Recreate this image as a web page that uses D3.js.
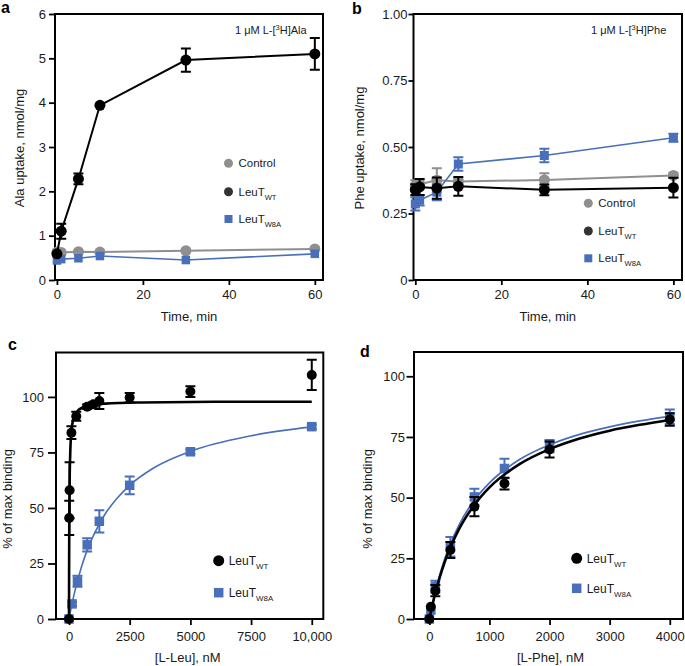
<!DOCTYPE html>
<html><head><meta charset="utf-8">
<script src="https://cdn.jsdelivr.net/npm/d3@7"></script>
<style>body{margin:0;background:#fff} svg text{font-family:"Liberation Sans",Arial,Helvetica,sans-serif}</style>
</head><body><svg id="chart" width="685" height="666"></svg>
<script>
// ---------- data ----------
// panel a: Ala uptake
const timeMin = [0, 1, 5, 10, 30, 60];
const alaControl = [0.63, 0.62, 0.64, 0.63, 0.66, 0.70];
const alaWT = [0.59, 1.10, 2.28, 3.94, 4.96, 5.10];
const alaWTErr = [0, 0.17, 0.12, 0, 0.26, 0.36];
const alaW8A = [0.44, 0.47, 0.49, 0.54, 0.45, 0.59];
// panel b: Phe uptake
const pheControl = [0.355, 0.36, 0.375, 0.37, 0.376, 0.393];
const pheControlErr = [0.02, 0.015, 0.045, 0.01, 0.025, 0.01];
const pheWT = [0.34, 0.35, 0.345, 0.352, 0.339, 0.347];
const pheWTErr = [0.02, 0.03, 0.04, 0.035, 0.02, 0.037];
const pheW8A = [0.286, 0.30, 0.33, 0.436, 0.468, 0.535];
const pheW8AErr = [0.025, 0.02, 0.03, 0.025, 0.025, 0.015];
// panel c: L-Leu binding
const leuConcWT = [0, 10, 25, 100, 300, 750, 1000, 1250, 2500, 5000, 10000];
const leuBindWT = [0, 45.5, 58, 83.9, 91.3, 95.6, 96.7, 98.2, 99.7, 102.4, 109.9];
const leuBindWTErr = [0, 7.7, 12.6, 2.9, 2.0, 1.0, 1.0, 3.6, 2.1, 2.4, 6.8];
const leuConcW8A = [0, 125, 350, 750, 1250, 2500, 5000, 10000];
const leuBindW8A = [0, 6.8, 17, 33.4, 44, 60.2, 75.3, 86.6];
const leuBindW8AErr = [0, 1, 2.5, 3, 5, 4, 1, 1];
const leuFitWTx = [0, 5, 10, 25, 50, 100, 200, 400, 800, 1500, 3000, 6000, 10000];
const leuFitWTy = [0, 23, 38, 60, 74, 84.5, 90.7, 94.2, 96.1, 97, 97.5, 97.8, 97.8];
const leuFitW8Ax = [0, 125, 250, 500, 750, 1000, 1500, 2000, 2500, 3500, 5000, 7500, 10000];
const leuFitW8Ay = [0, 6.9, 12.9, 23, 31, 37.4, 47.5, 54.6, 60.2, 68.1, 75.5, 82.5, 86.5];
// panel d: L-Phe binding
const pheConc = [0, 25, 100, 350, 750, 1250, 2000, 4000];
const pheBindWT = [0, 5, 11.7, 28.4, 46.3, 55.8, 69.8, 82.2];
const pheBindWTErr = [0, 0, 2.3, 3.3, 4, 2.4, 3.3, 2.6];
const pheBindW8A = [0, 3.7, 13.3, 29.8, 50.3, 62, 71.2, 83.3];
const pheBindW8AErr = [0, 0, 2.5, 4, 3.4, 4, 2.5, 3];
const pheFitX = [0, 100, 250, 500, 750, 1000, 1500, 2000, 2500, 3000, 3500, 4000];
const pheFitWTy = [0, 10.7, 23, 37.3, 47, 54.2, 63.8, 70, 74.4, 77.6, 80, 82];
const pheFitW8Ay = [0, 11.4, 24.3, 39, 49, 56.1, 65.7, 71.8, 76.1, 79.2, 81.6, 83.5];
// ticks
const timeTicks = [0, 20, 40, 60];
const alaTicks = [0, 1, 2, 3, 4, 5, 6];
const pheUptakeTicks = [0, 0.25, 0.5, 0.75, 1];
const pheUptakeTickLabels = ["0", "0.25", "0.50", "0.75", "1.00"];
const leuTicks = [0, 2500, 5000, 7500, 10000];
const leuTickLabels = ["0", "2500", "5000", "7500", "10,000"];
const bindTicks = [0, 25, 50, 75, 100];
const pheConcTicks = [0, 1000, 2000, 3000, 4000];

// ---------- drawing ----------
const svg = d3.select("#chart");
const BLUE = "#4a6fba", GRAY = "#8f8f8f", BLACK = "#000000";
const FONT = '"Liberation Sans",Arial,Helvetica,sans-serif';

function panel(o) {
  const x = d3.scaleLinear().domain(o.xDomain).range([o.left, o.right]);
  const y = d3.scaleLinear().domain(o.yDomain).range([o.bottom, o.top]);
  const g = svg.append("g");
  const xa = g.append("g").attr("transform", `translate(0,${o.bottom})`)
    .call(d3.axisBottom(x).tickValues(o.xTicks)
      .tickFormat((d, i) => o.xLabels ? o.xLabels[i] : d)
      .tickSize(o.xTickSize).tickPadding(o.xPad).tickSizeOuter(0));
  const ya = g.append("g").attr("transform", `translate(${o.left},0)`)
    .call(d3.axisLeft(y).tickValues(o.yTicks)
      .tickFormat((d, i) => o.yLabels ? o.yLabels[i] : d)
      .tickSize(o.yTickSize).tickPadding(o.yPad).tickSizeOuter(0));
  [xa, ya].forEach(a => {
    a.select(".domain").remove();
    a.attr("font-family", FONT).attr("font-size", 13);
    a.selectAll("line").attr("stroke", "#000").attr("stroke-width", 1.8);
    a.selectAll("text").attr("fill", "#1a1a1a");
  });
  g.append("rect").attr("x", o.left).attr("y", o.top)
    .attr("width", o.right - o.left).attr("height", o.bottom - o.top)
    .attr("fill", "none").attr("stroke", "#000").attr("stroke-width", 2);
  g.append("text").attr("x", (o.left + o.right) / 2 + (o.xTitleDx || 0)).attr("y", o.xTitleY)
    .attr("text-anchor", "middle").attr("font-size", 13).attr("fill", "#1a1a1a").text(o.xTitle);
  g.append("text").attr("transform", `translate(${o.yTitleX},${o.yTitleY}) rotate(-90)`)
    .attr("text-anchor", "middle").attr("font-size", 13).attr("fill", "#1a1a1a").text(o.yTitle);
  g.append("text").attr("x", o.letterX).attr("y", o.letterY).attr("font-size", 16)
    .attr("font-weight", "bold").text(o.letter);
  return { x, y, g };
}

function series(p, xs, ys, errs, opt) {
  const pts = xs.map((v, i) => ({ x: v, y: ys[i], e: errs ? errs[i] : 0 }));
  const g = p.g.append("g");
  if (opt.line) {
    g.append("path").datum(pts)
      .attr("d", d3.line().x(d => p.x(d.x)).y(d => p.y(d.y)))
      .attr("fill", "none").attr("stroke", opt.color).attr("stroke-width", opt.lw || 2);
  }
  pts.filter(d => d.e > 0).forEach(d => {
    const cx = p.x(d.x), y1 = p.y(d.y + d.e), y2 = p.y(d.y - d.e), hw = opt.cap || 5;
    g.append("path").attr("d", `M${cx},${y1}V${y2}M${cx - hw},${y1}H${cx + hw}M${cx - hw},${y2}H${cx + hw}`)
      .attr("stroke", opt.color).attr("stroke-width", 2).attr("fill", "none");
  });
  if (opt.shape === "circle") {
    g.selectAll("circle").data(pts).join("circle")
      .attr("cx", d => p.x(d.x)).attr("cy", d => p.y(d.y)).attr("r", opt.size)
      .attr("fill", opt.color);
  } else {
    g.selectAll("rect").data(pts).join("rect")
      .attr("x", d => p.x(d.x) - opt.size / 2).attr("y", d => p.y(d.y) - opt.size / 2)
      .attr("width", opt.size).attr("height", opt.size).attr("fill", opt.color);
  }
}

function fitCurve(p, xs, ys, color, lw) {
  p.g.append("path").datum(xs.map((v, i) => [v, ys[i]]))
    .attr("d", d3.line().x(d => p.x(d[0])).y(d => p.y(d[1])).curve(d3.curveMonotoneX))
    .attr("fill", "none").attr("stroke", color).attr("stroke-width", lw);
}

function legend(p, x, ys, items, fs) {
  items.forEach((it, i) => {
    const y = ys[i];
    if (it.shape === "circle") {
      p.g.append("circle").attr("cx", x).attr("cy", y).attr("r", it.size).attr("fill", it.color);
    } else {
      p.g.append("rect").attr("x", x - it.size / 2).attr("y", y - it.size / 2)
        .attr("width", it.size).attr("height", it.size).attr("fill", it.color);
    }
    const t = p.g.append("text").attr("x", x + 10).attr("y", y + fs * 0.36)
      .attr("font-size", fs).attr("fill", "#1a1a1a").text(it.label);
    if (it.sub) t.append("tspan").attr("font-size", fs * 0.66).attr("dy", 4).text(it.sub);
  });
}

function conditionLabel(p, x, y, aa) {
  const t = p.g.append("text").attr("x", x).attr("y", y).attr("font-size", 11).attr("fill", "#1a1a1a");
  t.append("tspan").text("1 \u03bcM L-[");
  t.append("tspan").attr("font-size", 7.5).attr("dy", -4).text("3");
  t.append("tspan").attr("dy", 4).text("H]" + aa);
}

// ---- panel a ----
const pa = panel({
  left: 55, right: 323, top: 14, bottom: 280,
  xDomain: [-0.45, 61.9], yDomain: [0, 6],
  xTicks: timeTicks, yTicks: alaTicks,
  xTickSize: 5, xPad: 5, yTickSize: 6, yPad: 3,
  xTitle: "Time, min", xTitleY: 321, xTitleDx: 0,
  yTitle: "Ala uptake, nmol/mg", yTitleX: 24, yTitleY: 148,
  letter: "a", letterX: 1, letterY: 13
});
series(pa, timeMin, alaControl, null, { color: GRAY, shape: "circle", size: 5.5, line: true, lw: 2 });
series(pa, timeMin, alaW8A, null, { color: BLUE, shape: "rect", size: 8.5, line: true, lw: 1.6 });
series(pa, timeMin, alaWT, alaWTErr, { color: BLACK, shape: "circle", size: 5.5, line: true, lw: 2 });
conditionLabel(pa, 235, 34, "Ala");
legend(pa, 228.5, [163.3, 191.7, 219], [
  { shape: "circle", size: 4.5, color: GRAY, label: "Control" },
  { shape: "circle", size: 4.5, color: "#333", label: "LeuT", sub: "WT" },
  { shape: "rect", size: 8, color: BLUE, label: "LeuT", sub: "W8A" }
], 11.5);

// ---- panel b ----
const pb = panel({
  left: 413.5, right: 682, top: 14, bottom: 280,
  xDomain: [-0.42, 62], yDomain: [0, 1],
  xTicks: timeTicks, yTicks: pheUptakeTicks, yLabels: pheUptakeTickLabels,
  xTickSize: 5, xPad: 5, yTickSize: 5, yPad: 1,
  xTitle: "Time, min", xTitleY: 321, xTitleDx: 0,
  yTitle: "Phe uptake, nmol/mg", yTitleX: 364, yTitleY: 148,
  letter: "b", letterX: 352, letterY: 14
});
series(pb, timeMin, pheControl, pheControlErr, { color: GRAY, shape: "circle", size: 5.5, line: true, lw: 2 });
series(pb, timeMin, pheW8A, pheW8AErr, { color: BLUE, shape: "rect", size: 9, line: true, lw: 1.6 });
series(pb, timeMin, pheWT, pheWTErr, { color: BLACK, shape: "circle", size: 5.5, line: true, lw: 2 });
conditionLabel(pb, 591, 34, "Phe");
legend(pb, 588.3, [203.3, 231, 258.3], [
  { shape: "circle", size: 4.5, color: GRAY, label: "Control" },
  { shape: "circle", size: 4.5, color: "#333", label: "LeuT", sub: "WT" },
  { shape: "rect", size: 8, color: BLUE, label: "LeuT", sub: "W8A" }
], 11.5);

// ---- panel c ----
const pc = panel({
  left: 56, right: 323.3, top: 352.5, bottom: 619,
  xDomain: [-535, 10475], yDomain: [0, 120],
  xTicks: leuTicks, xLabels: leuTickLabels, yTicks: bindTicks,
  xTickSize: 6, xPad: 7, yTickSize: 8, yPad: 4,
  xTitle: "[L-Leu], nM", xTitleY: 662, xTitleDx: -2,
  yTitle: "% of max binding", yTitleX: 12, yTitleY: 499,
  letter: "c", letterX: 8, letterY: 350
});
fitCurve(pc, leuFitW8Ax, leuFitW8Ay, BLUE, 1.6);
series(pc, leuConcW8A, leuBindW8A, leuBindW8AErr, { color: BLUE, shape: "rect", size: 9.5 });
fitCurve(pc, leuFitWTx, leuFitWTy, BLACK, 2.6);
series(pc, leuConcWT, leuBindWT, leuBindWTErr, { color: BLACK, shape: "circle", size: 5 });
legend(pc, 218.7, [560.7, 592.7], [
  { shape: "circle", size: 5.5, color: BLACK, label: "LeuT", sub: "WT" },
  { shape: "rect", size: 9.5, color: BLUE, label: "LeuT", sub: "W8A" }
], 12);

// ---- panel d ----
const pd = panel({
  left: 414, right: 683, top: 352, bottom: 619,
  xDomain: [-255, 4220], yDomain: [0, 110],
  xTicks: pheConcTicks, yTicks: bindTicks,
  xTickSize: 6, xPad: 7, yTickSize: 7.5, yPad: 1.5,
  xTitle: "[L-Phe], nM", xTitleY: 662, xTitleDx: 2,
  yTitle: "% of max binding", yTitleX: 372, yTitleY: 499,
  letter: "d", letterX: 360, letterY: 357
});
fitCurve(pd, pheFitX, pheFitW8Ay, BLUE, 1.8);
series(pd, pheConc, pheBindW8A, pheBindW8AErr, { color: BLUE, shape: "rect", size: 9.5 });
fitCurve(pd, pheFitX, pheFitWTy, BLACK, 2.6);
series(pd, pheConc, pheBindWT, pheBindWTErr, { color: BLACK, shape: "circle", size: 5 });
legend(pd, 576.7, [558.3, 588.3], [
  { shape: "circle", size: 5.5, color: BLACK, label: "LeuT", sub: "WT" },
  { shape: "rect", size: 9.5, color: BLUE, label: "LeuT", sub: "W8A" }
], 12);
</script></body></html>
